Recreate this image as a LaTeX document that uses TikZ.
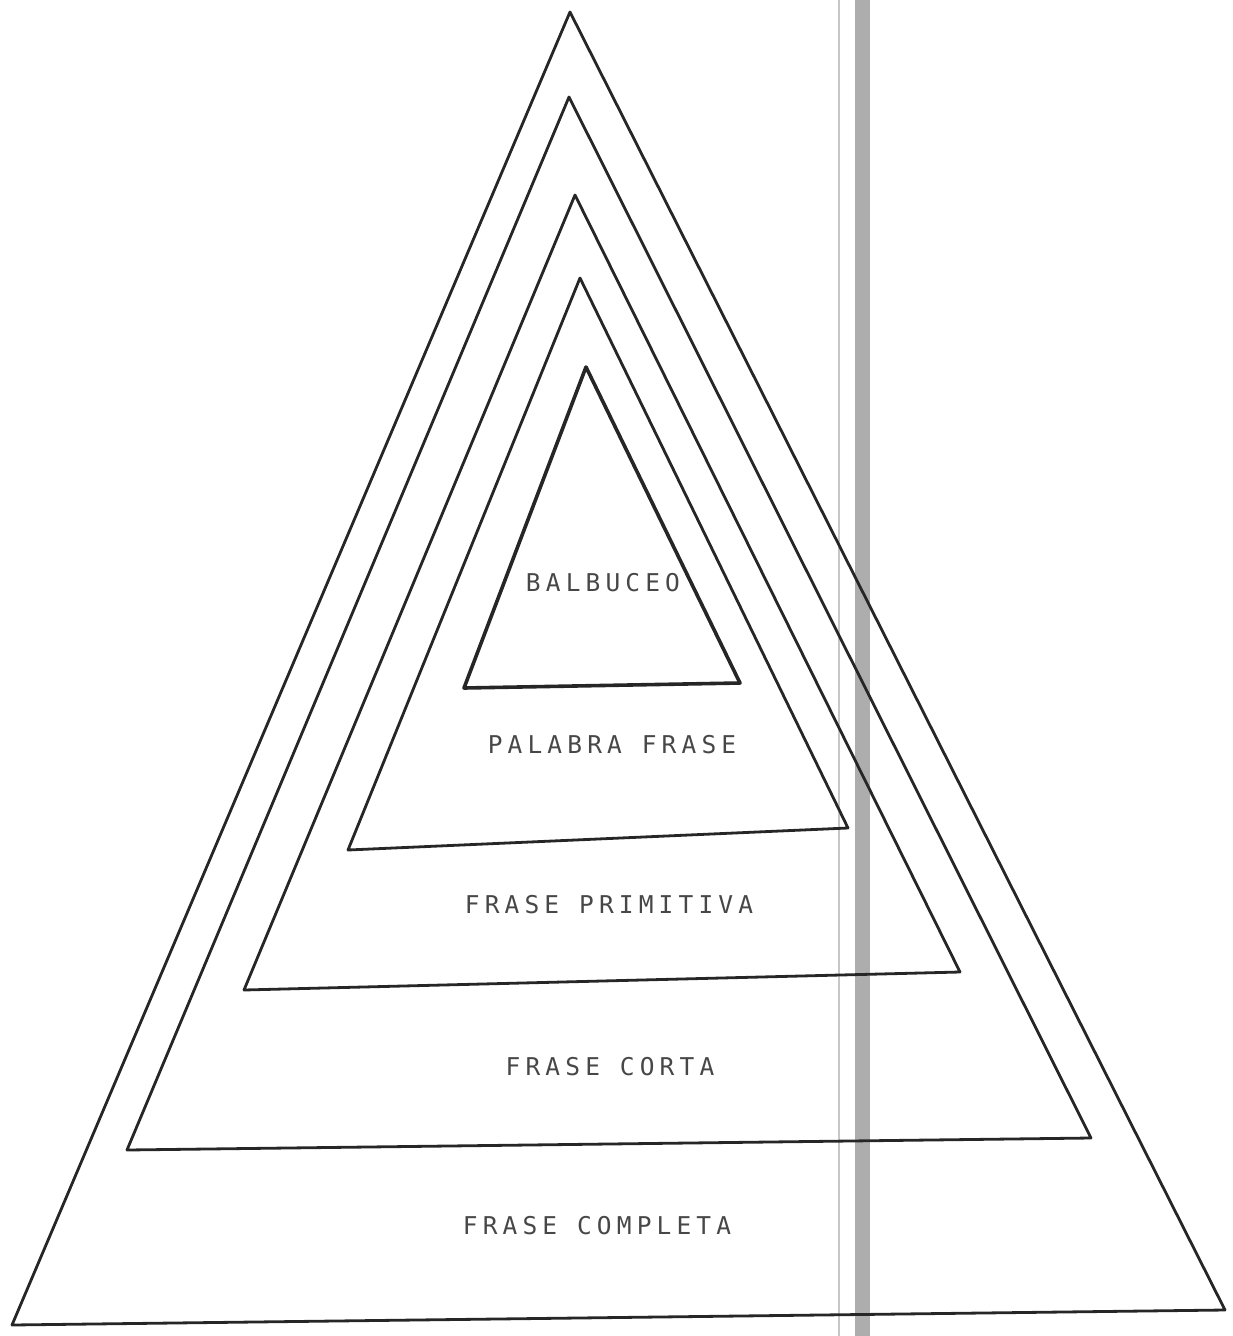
\documentclass[tikz,border=0pt]{standalone}
\usepackage{fontspec}
\newfontfamily\plotfont[LetterSpace=21]{DejaVu Sans Mono}
\usetikzlibrary{positioning}

\begin{document}
\begin{tikzpicture}[
  x=1pt, y=-1pt,
  edge/.style={draw=black!85, line width=2.8pt, line join=round, line cap=round},
  inner edge/.style={edge, line width=3.6pt},
  stage/.style={text=black!72, inner sep=0pt, font=\plotfont\fontsize{24.5}{26}\selectfont},
  fold/.style={draw=none, fill=black!32},
  crease/.style={draw=black!22, line width=2pt}
]
\useasboundingbox (0,0) rectangle (1232,1336);

% scanned page fold
\fill[fold] (855,0) rectangle (870,1336);
\draw[crease] (839,0) -- (839,1336);

% corners of the nested triangles (apex, left, right)
\coordinate (a1) at (570,12);  \coordinate (l1) at (12,1325);  \coordinate (r1) at (1225,1310);
\coordinate (a2) at (569,97);  \coordinate (l2) at (127,1150); \coordinate (r2) at (1091,1138);
\coordinate (a3) at (575,195); \coordinate (l3) at (244,990);  \coordinate (r3) at (960,972);
\coordinate (a4) at (580,278); \coordinate (l4) at (348,850);  \coordinate (r4) at (848,828);
\coordinate (a5) at (586,367); \coordinate (l5) at (464,688);  \coordinate (r5) at (740,683);

\draw[edge] (a1) -- (l1) -- (r1) -- cycle;
\draw[edge] (a2) -- (l2) -- (r2) -- cycle;
\draw[edge] (a3) -- (l3) -- (r3) -- cycle;
\draw[edge] (a4) -- (l4) -- (r4) -- cycle;
\draw[inner edge] (a5) -- (l5) -- (r5) -- cycle;

% stage labels
\node[stage] (balbuceo) at (603,583) {BALBUCEO};
\node[stage] (palabra) at (612,745) {PALABRA FRASE};
\node[stage] (primitiva) at (609,905) {FRASE PRIMITIVA};
\node[stage] (corta) at (610,1067) {FRASE CORTA};
\node[stage] (completa) at (597,1226) {FRASE COMPLETA};

\end{tikzpicture}
\end{document}
